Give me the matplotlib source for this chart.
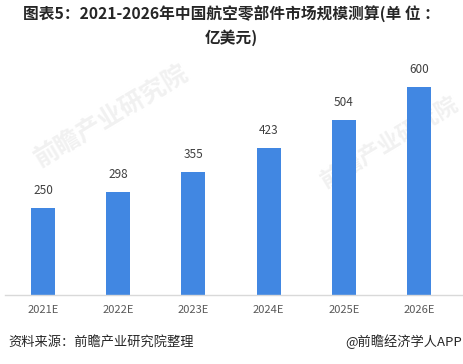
import matplotlib
matplotlib.use("Agg")
import matplotlib.pyplot as plt

plt.rcParams['font.family'] = ['Noto Sans CJK SC', 'DejaVu Sans']

categories = ["2021E", "2022E", "2023E", "2024E", "2025E", "2026E"]
values = [250, 298, 355, 423, 504, 600]
title = "图表5：2021-2026年中国航空零部件市场规模测算(单 位 ：\n亿美元)"
source = "资料来源：前瞻产业研究院整理"
credit = "@前瞻经济学人APP"
watermark = "前瞻产业研究院"

W, H = 463, 364
fig = plt.figure(figsize=(W / 100, H / 100), dpi=100)

# axes geometry in pixels
left_px, right_px = 5.4, 463
bottom_px, top_px = 295, 52.3
ax = fig.add_axes([left_px / W, (H - bottom_px) / H,
                   (right_px - left_px) / W, (bottom_px - top_px) / H])

# faint watermarks behind the bars
for (xp, yp, fs) in [(43, 172, 18), (328, 192, 16)]:
    ax.text(xp / W, 1 - yp / H, watermark, transform=fig.transFigure,
            rotation=31, fontsize=fs, color='#f1f1f1', fontweight='bold',
            ha='left', va='bottom', rotation_mode='anchor', zorder=1)

x = list(range(len(categories)))
ax.bar(x, values, width=0.32, color='#4187e2', zorder=2)
for xi, v in zip(x, values):
    ax.annotate(str(v), (xi, v), xytext=(0, 8), textcoords='offset points',
                ha='center', va='bottom', fontsize=8.5, color='#404040',
                zorder=3)

ax.set_ylim(0, 700)
ax.set_xlim(-0.5, 5.5 + (right_px - (left_px + 6 * 75.2)) / 75.2)
ax.set_xticks(x)
ax.set_xticklabels(categories, fontsize=8, color='#595959')
ax.tick_params(axis='x', length=0, pad=7)
ax.set_yticks([])
for s in ['top', 'right', 'left']:
    ax.spines[s].set_visible(False)
ax.spines['bottom'].set_color('#d9d9d9')
ax.spines['bottom'].set_linewidth(1)
ax.patch.set_alpha(0)

fig.text(231 / W, 1 - 6 / H, title, ha='center', va='top', fontsize=11.3,
         fontweight='bold', color='#262626', linespacing=1.45)
fig.text(8 / W, 1 - 342 / H, source, ha='left', va='center', fontsize=9.5,
         color='#262626')
fig.text(462 / W, 1 - 342 / H, credit, ha='right', va='center', fontsize=9.5,
         color='#262626')

fig.savefig("out.png", dpi=100)
